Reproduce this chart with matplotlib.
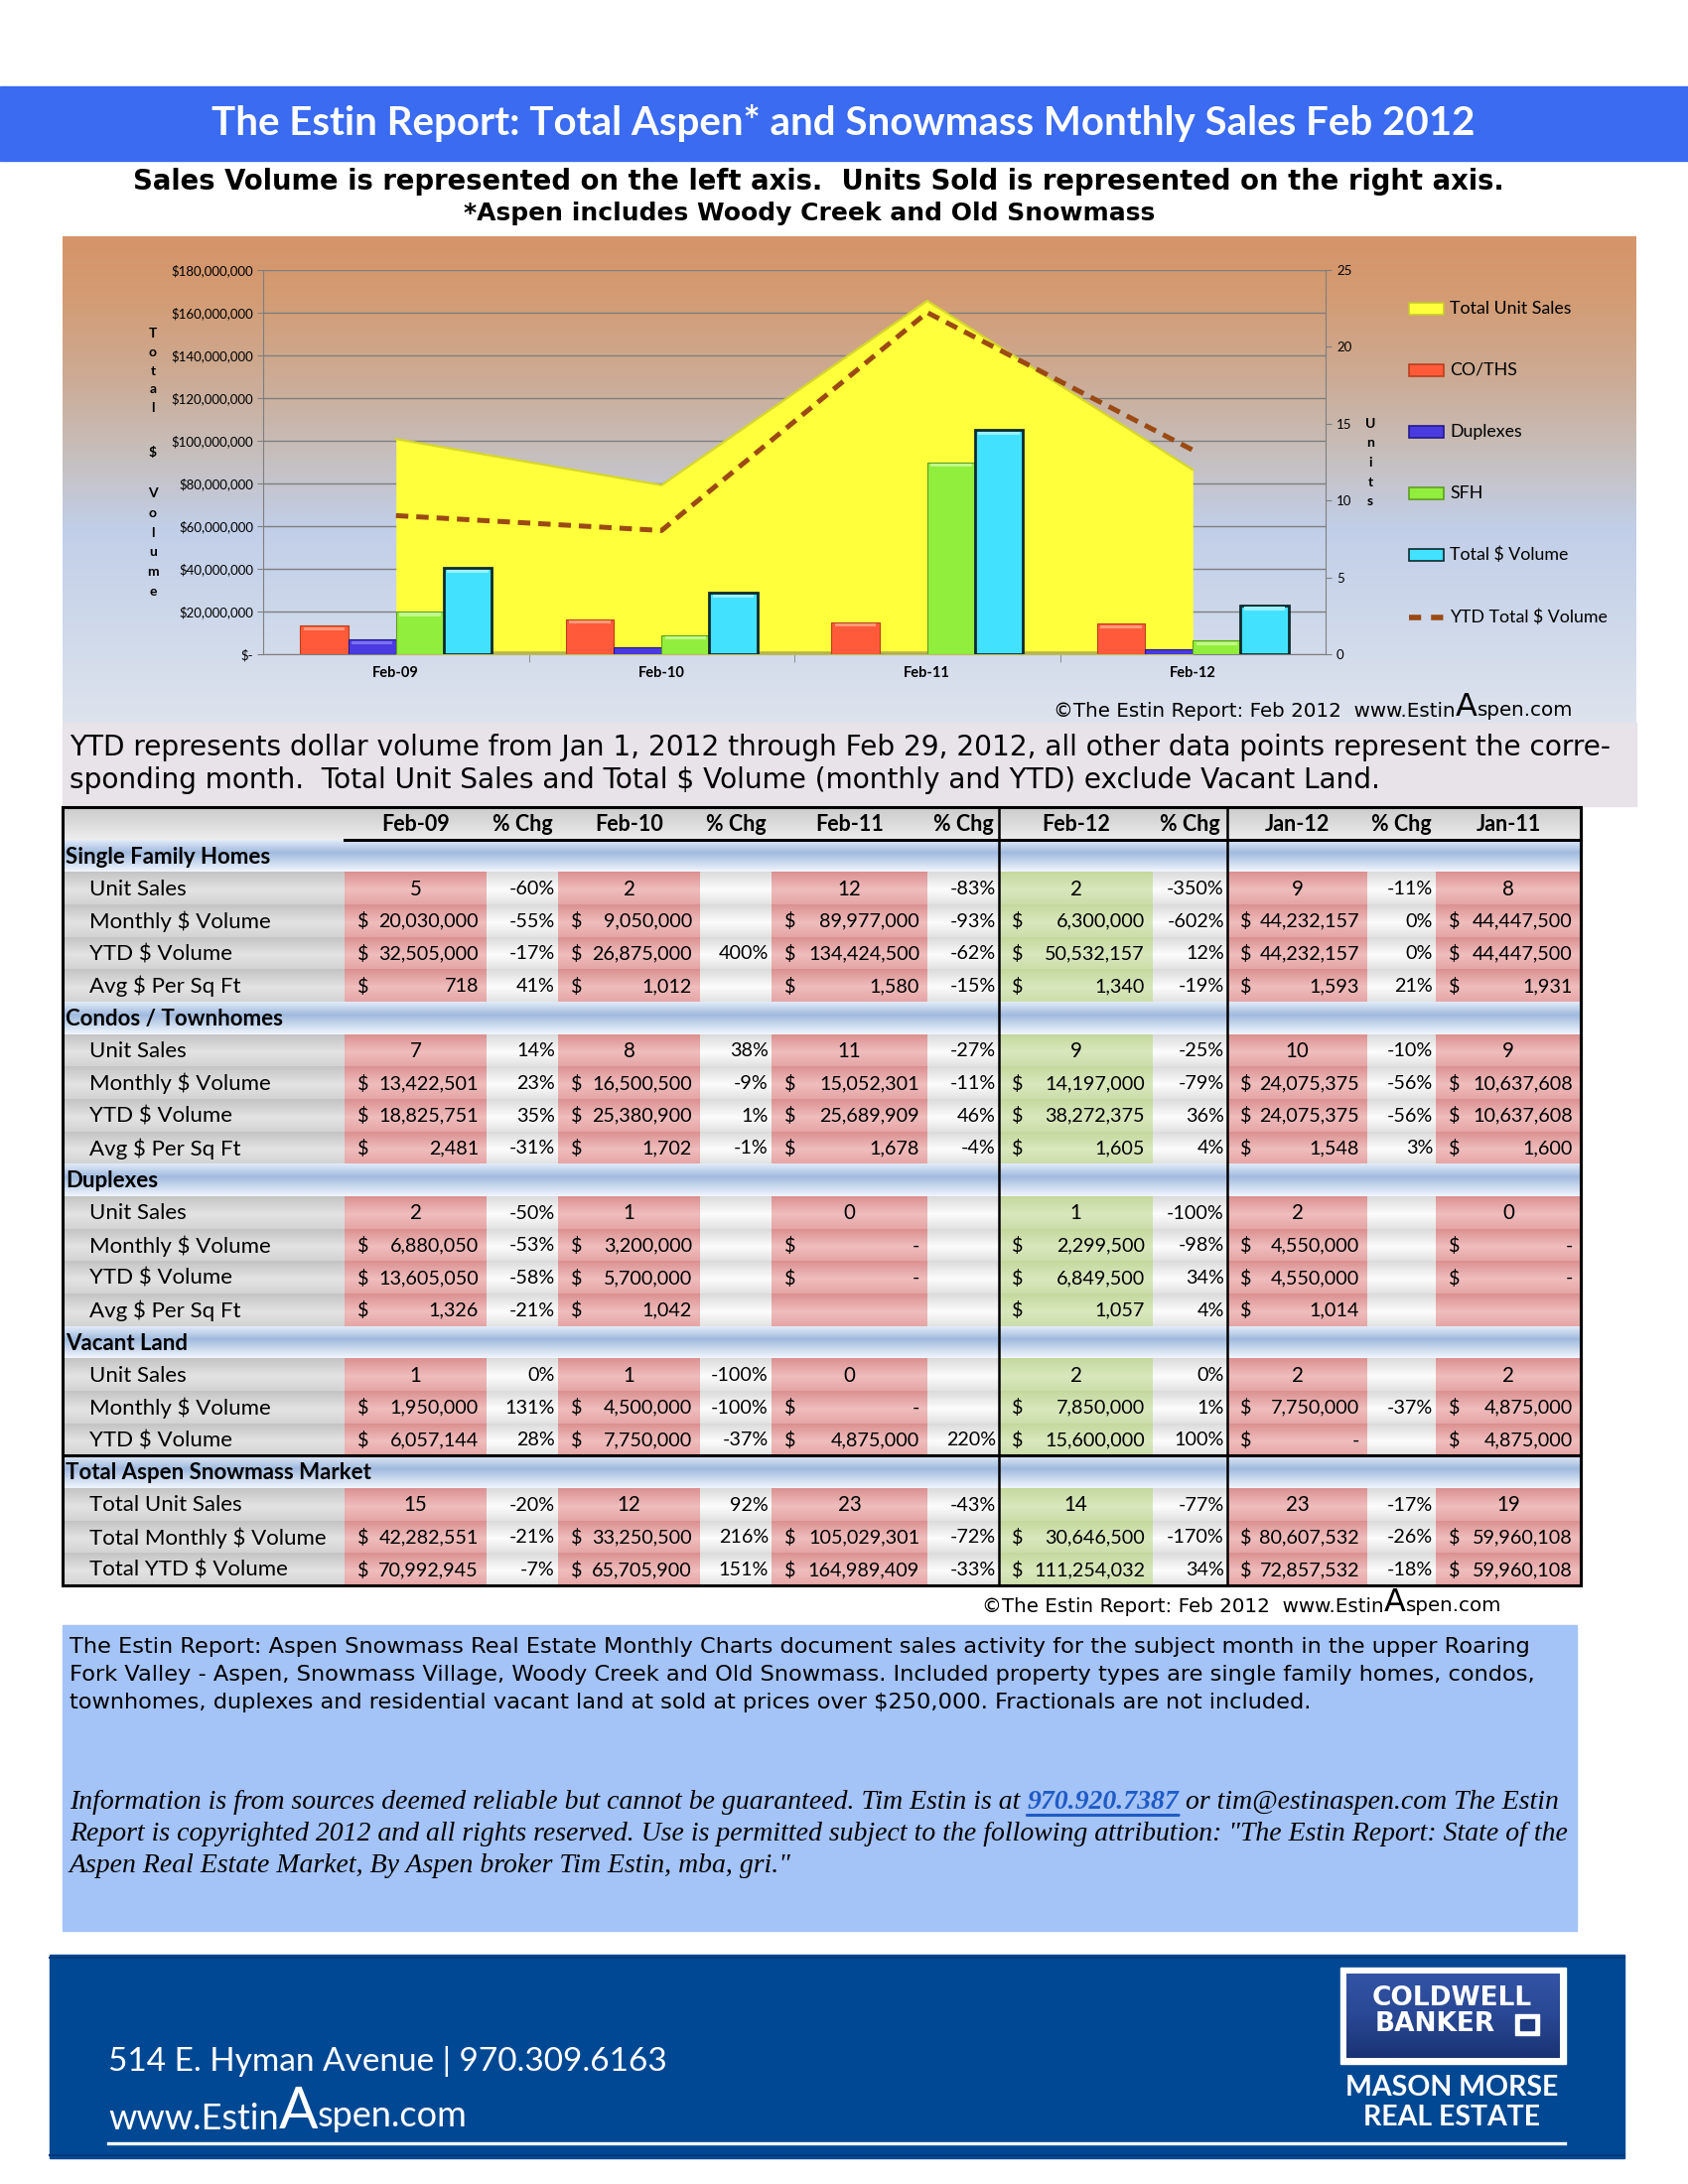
import numpy as np
import matplotlib
matplotlib.use('Agg')
import matplotlib.pyplot as plt
from matplotlib.patches import Rectangle
from matplotlib.ticker import FuncFormatter

plt.rcParams['font.family'] = ['Lato', 'DejaVu Sans']

# ---------------- chart data (Total Unit Sales / $ volume exclude vacant land) ----------------
chart_months = ['Feb-09', 'Feb-10', 'Feb-11', 'Feb-12']
total_units = [14, 11, 23, 12]
co_ths_vol = [13422501, 16500500, 15052301, 14197000]
duplex_vol = [6880050, 3200000, 0, 2299500]
sfh_vol = [20030000, 9050000, 89977000, 6300000]
total_vol = [40332551, 28750500, 105029301, 22796500]
ytd_total_vol = [64935801, 57955900, 160114409, 95654032]

# ---------------- table data ----------------
periods = ['Feb-09', 'Feb-10', 'Feb-11', 'Feb-12', 'Jan-12', 'Jan-11']

sfh_units = [5, 2, 12, 2, 9, 8]
sfh_units_chg = [-60, None, -83, -350, -11]
sfh_monthly = [20030000, 9050000, 89977000, 6300000, 44232157, 44447500]
sfh_monthly_chg = [-55, None, -93, -602, 0]
sfh_ytd = [32505000, 26875000, 134424500, 50532157, 44232157, 44447500]
sfh_ytd_chg = [-17, 400, -62, 12, 0]
sfh_sqft = [718, 1012, 1580, 1340, 1593, 1931]
sfh_sqft_chg = [41, None, -15, -19, 21]

condo_units = [7, 8, 11, 9, 10, 9]
condo_units_chg = [14, 38, -27, -25, -10]
condo_monthly = [13422501, 16500500, 15052301, 14197000, 24075375, 10637608]
condo_monthly_chg = [23, -9, -11, -79, -56]
condo_ytd = [18825751, 25380900, 25689909, 38272375, 24075375, 10637608]
condo_ytd_chg = [35, 1, 46, 36, -56]
condo_sqft = [2481, 1702, 1678, 1605, 1548, 1600]
condo_sqft_chg = [-31, -1, -4, 4, 3]

dup_units = [2, 1, 0, 1, 2, 0]
dup_units_chg = [-50, None, None, -100, None]
dup_monthly = [6880050, 3200000, 0, 2299500, 4550000, 0]
dup_monthly_chg = [-53, None, None, -98, None]
dup_ytd = [13605050, 5700000, 0, 6849500, 4550000, 0]
dup_ytd_chg = [-58, None, None, 34, None]
dup_sqft = [1326, 1042, None, 1057, 1014, None]
dup_sqft_chg = [-21, None, None, 4, None]

land_units = [1, 1, 0, 2, 2, 2]
land_units_chg = [0, -100, None, 0, None]
land_monthly = [1950000, 4500000, 0, 7850000, 7750000, 4875000]
land_monthly_chg = [131, -100, None, 1, -37]
land_ytd = [6057144, 7750000, 4875000, 15600000, 0, 4875000]
land_ytd_chg = [28, -37, 220, 100, None]

tot_units = [15, 12, 23, 14, 23, 19]
tot_units_chg = [-20, 92, -43, -77, -17]
tot_monthly = [42282551, 33250500, 105029301, 30646500, 80607532, 59960108]
tot_monthly_chg = [-21, 216, -72, -170, -26]
tot_ytd = [70992945, 65705900, 164989409, 111254032, 72857532, 59960108]
tot_ytd_chg = [-7, 151, -33, 34, -18]

sections = [
    ('Single Family Homes', [('Unit Sales', sfh_units, sfh_units_chg, 'n'),
                             ('Monthly $ Volume', sfh_monthly, sfh_monthly_chg, '$'),
                             ('YTD $ Volume', sfh_ytd, sfh_ytd_chg, '$'),
                             ('Avg $ Per Sq Ft', sfh_sqft, sfh_sqft_chg, '$')]),
    ('Condos / Townhomes', [('Unit Sales', condo_units, condo_units_chg, 'n'),
                            ('Monthly $ Volume', condo_monthly, condo_monthly_chg, '$'),
                            ('YTD $ Volume', condo_ytd, condo_ytd_chg, '$'),
                            ('Avg $ Per Sq Ft', condo_sqft, condo_sqft_chg, '$')]),
    ('Duplexes', [('Unit Sales', dup_units, dup_units_chg, 'n'),
                  ('Monthly $ Volume', dup_monthly, dup_monthly_chg, '$'),
                  ('YTD $ Volume', dup_ytd, dup_ytd_chg, '$'),
                  ('Avg $ Per Sq Ft', dup_sqft, dup_sqft_chg, '$')]),
    ('Vacant Land', [('Unit Sales', land_units, land_units_chg, 'n'),
                     ('Monthly $ Volume', land_monthly, land_monthly_chg, '$'),
                     ('YTD $ Volume', land_ytd, land_ytd_chg, '$')]),
    ('Total Aspen Snowmass Market', [('Total Unit Sales', tot_units, tot_units_chg, 'n'),
                                     ('Total Monthly $ Volume', tot_monthly, tot_monthly_chg, '$'),
                                     ('Total YTD $ Volume', tot_ytd, tot_ytd_chg, '$')]),
]

FW, FH = 1700, 2200


def vgrad(stops, n):
    f = np.linspace(0, 1, n)
    fr = [s[0] for s in stops]
    return np.stack([np.interp(f, fr, [s[1][k] for s in stops]) for k in range(3)], axis=-1)


fig = plt.figure(figsize=(17, 22), dpi=100)
fig.patch.set_facecolor('white')
bg = fig.add_axes([0, 0, 1, 1])
bg.axis('off')

# title bar + subtitles
bg.add_patch(Rectangle((0, 87), FW, 75, color='#3A6BF0', zorder=1))
bg.text(849, 124, 'The Estin Report: Total Aspen* and Snowmass Monthly Sales Feb 2012',
        color='white', fontsize=29, fontweight='bold', ha='center', va='center', zorder=2)
bg.text(824, 183, 'Sales Volume is represented on the left axis.  Units Sold is represented on the right axis.',
        family='DejaVu Sans', fontweight='bold', fontsize=19.8, ha='center', va='center')
bg.text(815, 215, '*Aspen includes Woody Creek and Old Snowmass',
        family='DejaVu Sans', fontweight='bold', fontsize=18, ha='center', va='center')

# chart panel background
panel = vgrad([(0, (0.84, 0.58, 0.41)), (0.12, (0.83, 0.61, 0.45)), (0.29, (0.80, 0.67, 0.58)),
               (0.43, (0.78, 0.74, 0.72)), (0.60, (0.76, 0.81, 0.91)), (0.80, (0.81, 0.85, 0.92)),
               (1.0, (0.87, 0.89, 0.93))], 490)[:, None, :]
bg.imshow(panel, extent=(63, 1648, 728, 238), aspect='auto', interpolation='bilinear', zorder=0)

# YTD note band
bg.add_patch(Rectangle((63, 728), 1585, 84, color='#E7E3E8', zorder=0))
bg.text(70, 753, 'YTD represents dollar volume from Jan 1, 2012 through Feb 29, 2012, all other data points represent the corre-',
        family='DejaVu Sans', fontsize=20.2, va='center', parse_math=False)
bg.text(70, 786, 'sponding month.  Total Unit Sales and Total $ Volume (monthly and YTD) exclude Vacant Land.',
        family='DejaVu Sans', fontsize=20.2, va='center', parse_math=False)

# ---------------- chart ----------------
ax_d = fig.add_axes([265 / FW, 1 - 659 / FH, 1070 / FW, 387 / FH])
ax_d.set_facecolor('none')
ax_d.set_xlim(-0.5, 3.5)
ax_d.set_ylim(0, 180e6)
ax_d.set_yticks(np.arange(0, 180e6 + 1, 20e6))
ax_d.yaxis.set_major_formatter(FuncFormatter(lambda v, p: '$-' if v == 0 else f'${v:,.0f}'))
ax_d.grid(axis='y', color='#7F7F7F', lw=1)
ax_d.set_axisbelow(True)
x = np.arange(len(chart_months))
ax_d.set_xticks(x)
ax_d.set_xticklabels(chart_months, fontweight='bold', fontsize=10.5)
ax_d.set_xticks([0.5, 1.5, 2.5], minor=True)
ax_d.tick_params(axis='x', which='major', length=0, pad=9)
ax_d.tick_params(axis='x', which='minor', length=6, color='#7F7F7F')
ax_d.tick_params(axis='y', length=4, color='#7F7F7F', labelsize=9.5, pad=3)
for s in ['top', 'right']:
    ax_d.spines[s].set_visible(False)
for s in ['left', 'bottom']:
    ax_d.spines[s].set_color('#7F7F7F')

ax_u = ax_d.twinx()
ax_u.set_ylim(0, 25)
ax_u.set_yticks(range(0, 26, 5))
ax_u.tick_params(axis='y', length=4, color='#7F7F7F', labelsize=9.5, pad=4)
for s in ['top', 'left', 'bottom']:
    ax_u.spines[s].set_visible(False)
ax_u.spines['right'].set_color('#7F7F7F')
ax_u.fill_between(x, total_units, color='#FFFF3C', lw=0)
ax_u.plot(x, total_units, color='#D6D62C', lw=1.6)
ax_u.plot(x, np.zeros(len(x)), color='#B4B44C', lw=4)

ax_t = ax_d.twinx()
ax_t.set_ylim(0, 180e6)
ax_t.axis('off')
w = 0.18
bar_styles = [(co_ths_vol, '#FF5A3A', '#FF9A78', '#B8401E', 0.8),
              (duplex_vol, '#4A3BE0', '#7C70F0', '#241A8A', 0.8),
              (sfh_vol, '#92EE3C', '#C2F88A', '#5E9E22', 0.8),
              (total_vol, '#42E2FF', '#9AF0FF', '#0E2A2E', 2.0)]
cap = 1.6e6
for i, (vals, fc, hc, ec, lw) in enumerate(bar_styles):
    xs = x + (i - 1.5) * w
    v = np.array(vals, dtype=float)
    ax_t.bar(xs, v, w, color=fc, edgecolor=ec, lw=lw, zorder=2)
    hv = np.where(v > cap * 2, cap, 0)
    ax_t.bar(xs, hv, w * 0.86, bottom=v - hv * 1.4, color=hc, lw=0, zorder=3)
ax_t.plot(x, ytd_total_vol, color='#9B4A14', lw=3.6, dashes=(2.5, 1.6), dash_capstyle='butt', zorder=4)

# vertical axis titles
for i, ch in enumerate('Total'):
    bg.text(154, 336 + i * 18.8, ch, fontsize=10, fontweight='bold', ha='center', va='center', zorder=5)
bg.text(154, 456, '$', fontsize=10, fontweight='bold', ha='center', va='center', zorder=5, parse_math=False)
for i, ch in enumerate('Volume'):
    bg.text(154, 497 + i * 19.8, ch, fontsize=10, fontweight='bold', ha='center', va='center', zorder=5)
for i, ch in enumerate('Units'):
    bg.text(1380, 427 + i * 19.5, ch, fontsize=10, fontweight='bold', ha='center', va='center', zorder=5)

# legend
leg = [('Total Unit Sales', '#FFFF3C', '#C8C830'), ('CO/THS', '#FF5A3A', '#B8401E'),
       ('Duplexes', '#4A3BE0', '#241A8A'), ('SFH', '#92EE3C', '#5E9E22'),
       ('Total $ Volume', '#42E2FF', '#0E2A2E')]
for i, (lab, fc, ec) in enumerate(leg):
    yc = 311 + i * 62
    bg.add_patch(Rectangle((1419, yc - 6), 35, 12, facecolor=fc, edgecolor=ec, lw=1.2, zorder=5))
    bg.text(1460, yc, lab, fontsize=12.8, va='center', zorder=5, parse_math=False)
bg.plot([1419, 1457], [622, 622], color='#9B4A14', lw=4, dashes=(2.2, 1.8), dash_capstyle='butt', zorder=5)
bg.text(1460, 622, 'YTD Total $ Volume', fontsize=12.8, va='center', zorder=5, parse_math=False)


def copyright(x0, yb, size, big):
    t1 = bg.text(x0, yb, '\u00a9The Estin Report: Feb 2012  www.Estin', family='DejaVu Sans',
                 fontsize=size, va='baseline', zorder=6)
    t2 = bg.annotate('A', xy=(1, 0), xycoords=t1, xytext=(0, size * 0.236), textcoords='offset points',
                     family='DejaVu Sans', fontsize=big, va='baseline', ha='left', zorder=6)
    bg.annotate('spen.com', xy=(1, 0), xycoords=t2, xytext=(0, big * 0.236), textcoords='offset points',
                family='DejaVu Sans', fontsize=size, va='baseline', ha='left', zorder=6)


copyright(1061, 722, 14.3, 23)

# ---------------- table ----------------
col_x = [63, 347, 490, 562, 705, 777, 934, 1006, 1161, 1236, 1377, 1446, 1592]
col_kind = ['label'] + ['val', 'pct'] * 5 + ['val']
t_top, t_bot = 813, 1597
n_rows = 1 + sum(1 + len(r) for _, r in sections)
rh = (t_bot - t_top) / n_rows

row_kind = ['header']
for _, rows in sections:
    row_kind += ['band'] + ['data'] * len(rows)

grads = {
    'header': [(0, (0.80,) * 3), (0.5, (0.86,) * 3), (1, (0.93,) * 3)],
    'band': [(0, (0.88, 0.92, 0.97)), (0.4, (0.63, 0.73, 0.87)), (1, (0.94, 0.96, 0.99))],
    'label': [(0, (0.77,) * 3), (0.55, (0.89,) * 3), (1, (0.83,) * 3)],
    'pct': [(0, (0.86,) * 3), (0.55, (0.99,) * 3), (1, (0.89,) * 3)],
    'pink': [(0, (0.86, 0.57, 0.57)), (0.55, (0.94, 0.74, 0.74)), (1, (0.90, 0.65, 0.65))],
    'green': [(0, (0.77, 0.85, 0.62)), (0.55, (0.85, 0.91, 0.74)), (1, (0.80, 0.87, 0.67))],
}
TW, TH = col_x[-1] - col_x[0], t_bot - t_top
img = np.ones((TH, TW, 3))
for r, kind in enumerate(row_kind):
    y0, y1 = int(round(r * rh)), int(round((r + 1) * rh))
    for c in range(len(col_kind)):
        x0, x1 = col_x[c] - col_x[0], col_x[c + 1] - col_x[0]
        if kind in ('header', 'band'):
            g = kind
        elif col_kind[c] == 'label':
            g = 'label'
        elif col_kind[c] == 'pct':
            g = 'pct'
        else:
            g = 'green' if c == 7 else 'pink'
        img[y0:y1, x0:x1, :] = vgrad(grads[g], y1 - y0)[:, None, :]
bg.imshow(img, extent=(col_x[0], col_x[-1], t_bot, t_top), aspect='auto', interpolation='bilinear', zorder=1)

FS = 14.2
FL = 16
yc = t_top + rh / 2 + 1
for c in range(1, len(col_kind)):
    lab = periods[(c - 1) // 2] if col_kind[c] == 'val' else '% Chg'
    bg.text((col_x[c] + col_x[c + 1]) / 2, yc, lab, fontsize=15.5, fontweight='bold',
            ha='center', va='center', zorder=3)

r = 1
for title, rows in sections:
    bg.text(66, t_top + (r + 0.5) * rh + 1, title, fontsize=FL, fontweight='bold', va='center', zorder=3)
    r += 1
    for lab, vals, chg, kind in rows:
        yc = t_top + (r + 0.5) * rh + 1
        bg.text(90, yc, lab, fontsize=FL, va='center', zorder=3, parse_math=False)
        for k, v in enumerate(vals):
            c = 1 + 2 * k
            xl, xr = col_x[c], col_x[c + 1]
            if v is None:
                continue
            if kind == 'n':
                bg.text((xl + xr) / 2, yc, f'{v}', fontsize=FS + 0.6, ha='center', va='center', zorder=3)
            else:
                bg.text(xl + 13, yc, '$', fontsize=FS, ha='left', va='center', zorder=3, parse_math=False)
                bg.text(xr - 8, yc, '-' if v == 0 else f'{v:,}', fontsize=FS, ha='right', va='center', zorder=3)
        for k, p in enumerate(chg):
            if p is None:
                continue
            c = 2 + 2 * k
            bg.text(col_x[c + 1] - 3, yc, f'{p}%', fontsize=FS, ha='right', va='center', zorder=3)
        r += 1

# table lines
bg.add_patch(Rectangle((col_x[0], t_top), TW, TH, fill=False, edgecolor='black', lw=2.2, zorder=4))
bg.plot([col_x[1], col_x[-1]], [t_top + rh, t_top + rh], color='black', lw=2.2, zorder=4)
bg.plot([col_x[0], col_x[-1]], [t_top + 20 * rh, t_top + 20 * rh], color='black', lw=2.2, zorder=4)
for c in (7, 9):
    bg.plot([col_x[c], col_x[c]], [t_top, t_bot], color='black', lw=1.8, zorder=4)

copyright(989, 1624, 14.3, 23)

# ---------------- info box ----------------
bg.add_patch(Rectangle((63, 1637), 1525, 308, color='#A4C3F7', zorder=0))
para1 = ['The Estin Report: Aspen Snowmass Real Estate Monthly Charts document sales activity for the subject month in the upper Roaring',
         'Fork Valley - Aspen, Snowmass Village, Woody Creek and Old Snowmass. Included property types are single family homes, condos,',
         'townhomes, duplexes and residential vacant land at sold at prices over $250,000. Fractionals are not included.']
for i, line in enumerate(para1):
    bg.text(70, 1659 + i * 28, line, family='DejaVu Sans', fontsize=16.2, va='center', parse_math=False)

serif = dict(family='Liberation Serif', style='italic', fontsize=20)
ta = bg.text(70, 1816, 'Information is from sources deemed reliable but cannot be guaranteed. Tim Estin is at ',
             va='center', **serif)
tb = bg.annotate('970.920.7387', xy=(1, 0), xycoords=ta, va='bottom', ha='left', color='#1F5BC6',
                 fontweight='bold', **serif)
bg.annotate('', xy=(0, 0), xycoords=tb, xytext=(1, 0), textcoords=tb,
            arrowprops=dict(arrowstyle='-', color='#1F5BC6', lw=2.2, shrinkA=0, shrinkB=0))
bg.annotate(' or tim@estinaspen.com The Estin', xy=(1, 0), xycoords=tb, va='bottom', ha='left', **serif)
bg.text(70, 1848, 'Report is copyrighted 2012 and all rights reserved. Use is permitted subject to the following attribution: "The Estin Report: State of the',
        va='center', **serif)
bg.text(70, 1880, 'Aspen Real Estate Market, By Aspen broker Tim Estin, mba, gri."', va='center', **serif)

# ---------------- footer ----------------
bg.add_patch(Rectangle((50, 1969), 1586, 205, color='#004894', zorder=0))
bg.plot([50, 1636], [1972, 1972], color='#003A7C', lw=1.5)
bg.plot([50, 1636], [2171, 2171], color='#003A7C', lw=1.5)
bg.text(109, 2077, '514 E. Hyman Avenue | 970.309.6163', color='white', fontsize=24, va='center')
f1 = bg.text(109, 2145, 'www.Estin', color='white', fontsize=26, va='baseline')
f2 = bg.annotate('A', xy=(1, 0), xycoords=f1, xytext=(0, 26 * 0.2), textcoords='offset points',
                 color='white', fontsize=42, va='baseline', ha='left')
bg.annotate('spen.com', xy=(1, 0), xycoords=f2, xytext=(0, 42 * 0.2), textcoords='offset points',
            color='white', fontsize=26, va='baseline', ha='left')
bg.plot([109, 1576], [2159, 2159], color='white', lw=2.4)

bg.add_patch(Rectangle((1350, 1982), 227, 97, color='white', zorder=1))
logo = vgrad([(0, (0.20, 0.33, 0.65)), (0.5, (0.16, 0.28, 0.58)), (1, (0.10, 0.20, 0.45))], 85)[:, None, :]
bg.imshow(logo, extent=(1356, 1571, 2073, 1988), aspect='auto', interpolation='bilinear', zorder=2)
bg.text(1462, 2013, 'COLDWELL', color='white', family='DejaVu Sans', fontweight='bold', fontsize=19,
        ha='center', va='center', zorder=3)
bg.text(1445, 2039, 'BANKER', color='white', family='DejaVu Sans', fontweight='bold', fontsize=19,
        ha='center', va='center', zorder=3)
bg.add_patch(Rectangle((1526, 2029), 24, 21, color='white', zorder=3))
bg.add_patch(Rectangle((1531, 2034), 14, 11, color='#1E3A80', zorder=4))
bg.text(1462, 2103, 'MASON MORSE', color='white', fontweight='bold', fontsize=20.5, ha='center', va='center')
bg.text(1462, 2133, 'REAL ESTATE', color='white', fontweight='bold', fontsize=20.5, ha='center', va='center')

bg.set_xlim(0, FW)
bg.set_ylim(FH, 0)

fig.savefig('out.png', dpi=100)
